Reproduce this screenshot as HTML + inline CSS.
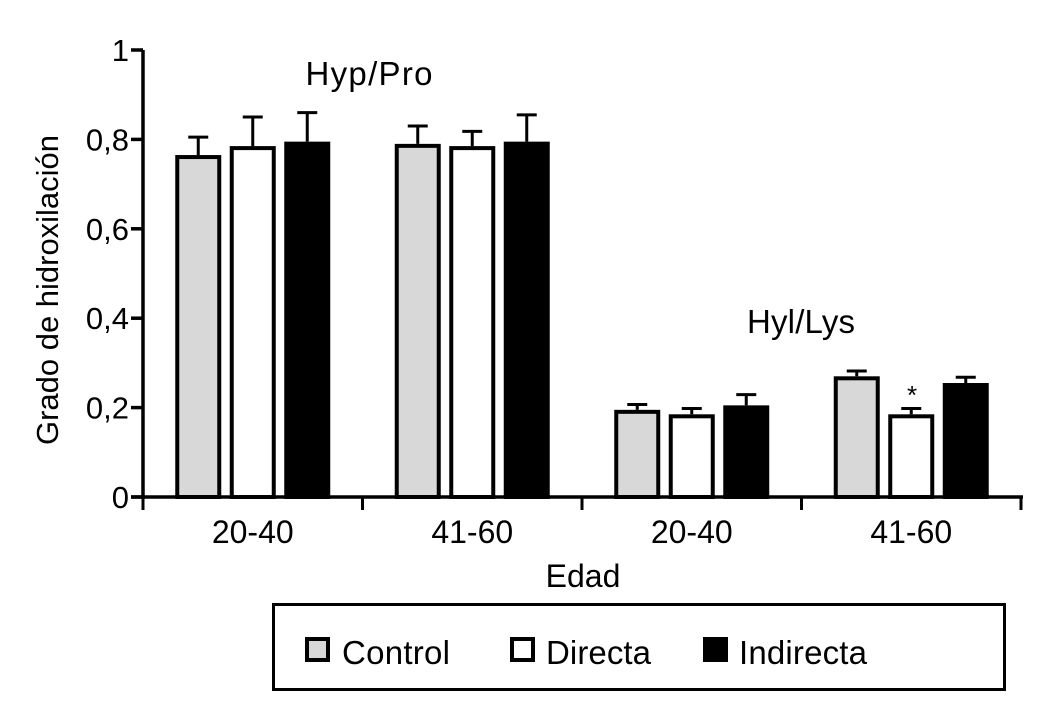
<!DOCTYPE html>
<html><head><meta charset="utf-8"><style>
html,body{margin:0;padding:0;background:#fff;}
svg{display:block;font-family:"Liberation Sans",Arial,sans-serif;}
</style></head><body>
<svg id="chart" width="1037" height="708" viewBox="0 0 1037 708">
<g id="bars"></g>
<g id="axes"></g>
<text x="369" y="85" font-size="33" text-anchor="middle" textLength="127">Hyp/Pro</text>
<text x="801" y="333" font-size="33" text-anchor="middle" textLength="108">Hyl/Lys</text>
<text x="912" y="404" font-size="26" text-anchor="middle">*</text>
<text x="583" y="587" font-size="32" text-anchor="middle">Edad</text>
<text transform="translate(58,290) rotate(-90)" font-size="31" text-anchor="middle" textLength="310">Grado de hidroxilación</text>
<g>
<rect x="273.5" y="604.5" width="731" height="85" fill="#fff" stroke="#000" stroke-width="3"/>
<g><rect x="307" y="639" width="21" height="21" fill="#d8d8d8" stroke="#000" stroke-width="4"/><text x="342" y="664" font-size="33" textLength="108">Control</text></g>
<g><rect x="512" y="639" width="21" height="21" fill="#fff" stroke="#000" stroke-width="4"/><text x="546" y="664" font-size="33" textLength="105">Directa</text></g>
<g><rect x="705" y="639" width="21" height="21" fill="#000" stroke="#000" stroke-width="4"/><text x="739" y="664" font-size="33" textLength="128">Indirecta</text></g>
</g>
</svg>
<script>
const categories = ["20-40","41-60","20-40","41-60"];
const series = ["Control","Directa","Indirecta"];
const controlValues = [0.765,0.79,0.195,0.27];
const directaValues = [0.785,0.785,0.185,0.185];
const indirectaValues = [0.795,0.795,0.205,0.255];
const controlErrors = [0.04,0.04,0.012,0.012];
const directaErrors = [0.065,0.033,0.013,0.013];
const indirectaErrors = [0.065,0.06,0.024,0.013];
const yTicks = [0,0.2,0.4,0.6,0.8,1];
const yTickLabels = ["0","0,2","0,4","0,6","0,8","1"];

const NS="http://www.w3.org/2000/svg";
const x0=143, x1=1021, y0=497, y1=50;
function yScale(v){return y0-(v)*(y0-y1);}
const groupW=(x1-x0)/categories.length;
function groupStart(i){return x0+i*groupW;}
const fills=["#d8d8d8","#fff","#000"];
const vals=[controlValues,directaValues,indirectaValues];
const errs=[controlErrors,directaErrors,indirectaErrors];
const bw=46, gap=8.5;
function mk(tag,attrs,parent){const e=document.createElementNS(NS,tag);for(const k in attrs)e.setAttribute(k,attrs[k]);parent.appendChild(e);return e;}
const bars=document.getElementById('bars');
categories.forEach((c,i)=>{
  const gx=groupStart(i)+(groupW-(3*bw+2*gap))/2;
  series.forEach((s,j)=>{
    const v=vals[j][i], e=errs[j][i];
    const bx=gx+j*(bw+gap);
    const top=yScale(v), et=yScale(v+e), cx=bx+bw/2;
    const line=mk('line',{x1:cx,y1:top,x2:cx,y2:et,stroke:'#000','stroke-width':3},bars);
    
    
    const cap=mk('line',{x1:cx-10,y1:et,x2:cx+10,y2:et,stroke:'#000','stroke-width':3},bars);
    
    
    const r=mk('rect',{x:bx+2,y:top+2,width:bw-4,height:y0-top-2,fill:fills[j],stroke:'#000','stroke-width':4},bars);
    
    
  });
});
const axes=document.getElementById('axes');
const ya=mk('line',{x1:x0,y1:y1,x2:x0,y2:y0+2,stroke:'#000','stroke-width':3.5},axes);


const xa=mk('line',{x1:x0-12,y1:y0,x2:x1+2,y2:y0,stroke:'#000','stroke-width':3.5},axes);


yTicks.forEach((t,k)=>{
  const y=yScale(t);
  const tk=mk('line',{x1:x0-12,y1:y,x2:x0,y2:y,stroke:'#000','stroke-width':3.5},axes);
  
  
  const tx=mk('text',{x:x0-14,y:y+11,'font-size':31,'text-anchor':'end'},axes);
  tx.textContent=yTickLabels[k];
  
  
});
for(let i=0;i<=categories.length;i++){
  const x=groupStart(i);
  const tk=mk('line',{x1:x,y1:y0,x2:x,y2:y0+13,stroke:'#000','stroke-width':3},axes);
  
  
}
categories.forEach((c,i)=>{
  const tx=mk('text',{x:groupStart(i)+groupW/2,y:543,'font-size':32,'text-anchor':'middle'},axes);
  tx.textContent=c;
  
  
});
</script>
</body></html>
